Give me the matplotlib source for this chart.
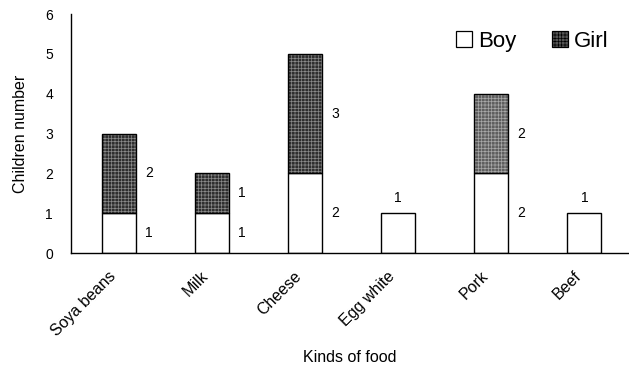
import matplotlib
matplotlib.use("Agg")
import matplotlib.pyplot as plt
import matplotlib.transforms as mtransforms
from matplotlib.patches import Patch
import numpy as np

plt.rcParams['font.family'] = ['Liberation Sans', 'DejaVu Sans']
plt.rcParams['hatch.linewidth'] = 0.5

foods = ["Soya beans", "Milk", "Cheese", "Egg white", "Pork", "Beef"]
boys = [1, 1, 2, 1, 2, 1]
girls = [2, 1, 3, 0, 2, 0]
girl_faces = ["#2e2e2e", "#2e2e2e", "#2e2e2e", "#2e2e2e", "#5e5e5e", "#2e2e2e"]
girl_grids = ["#8a8a8a", "#8a8a8a", "#8a8a8a", "#8a8a8a", "#a8a8a8", "#8a8a8a"]

fig = plt.figure(figsize=(6.29, 3.66), dpi=100)
ax = fig.add_axes([0.1129, 0.3087, 0.8871, 0.653])

x = np.arange(len(foods))
w = 0.365
ax.bar(x, boys, width=w, color="white", edgecolor="black", linewidth=1.0)
for xi, b, g, fc, gc in zip(x, boys, girls, girl_faces, girl_grids):
    if g > 0:
        # textured fill, then a crisp black outline on top
        ax.bar(xi, g, bottom=b, width=w, color=fc, edgecolor=gc,
               linewidth=0, hatch="+++++")
        ax.bar(xi, g, bottom=b, width=w, fill=False, edgecolor="black",
               linewidth=1.0)

# value labels
for xi, b, g in zip(x, boys, girls):
    if g > 0:
        ax.text(xi + w / 2 + 0.1, b / 2, str(b), fontsize=10, ha="left", va="center")
        ax.text(xi + w / 2 + 0.1, b + g / 2, str(g), fontsize=10, ha="left", va="center")
    else:
        ax.text(xi, b + 0.38, str(b), fontsize=10, ha="center", va="center")

ax.set_xlim(-0.516, 5.48)
ax.set_ylim(0, 6)
ax.set_yticks(range(0, 7))
ax.tick_params(axis="y", length=0, pad=13, labelsize=10)

ax.set_xticks(x)
ax.set_xticklabels(foods, rotation=45, ha="right", va="top",
                   rotation_mode="anchor", fontsize=11.5)
ax.tick_params(axis="x", length=0, pad=11)
shift = mtransforms.ScaledTranslation(-11 / 100, 0, fig.dpi_scale_trans)
for lbl in ax.get_xticklabels():
    lbl.set_transform(lbl.get_transform() + shift)

for s in ["top", "right"]:
    ax.spines[s].set_visible(False)
ax.spines["left"].set_linewidth(1.0)
ax.spines["bottom"].set_linewidth(1.0)

ax.set_ylabel("Children number", fontsize=11.5, labelpad=12)
ax.set_xlabel("Kinds of food", fontsize=11.5, labelpad=8)

handles = [Patch(facecolor="white", edgecolor="black", linewidth=0.9),
           Patch(facecolor="#555555", edgecolor="black", linewidth=0.9, hatch="+++++")]
ax.legend(handles, ["Boy", "Girl"], loc="upper right", bbox_to_anchor=(0.992, 0.995),
          ncol=2, frameon=False, fontsize=16, handlelength=0.7, handleheight=0.7,
          handletextpad=0.3, columnspacing=1.6, borderaxespad=0.3)

fig.savefig("out.png", dpi=100)
